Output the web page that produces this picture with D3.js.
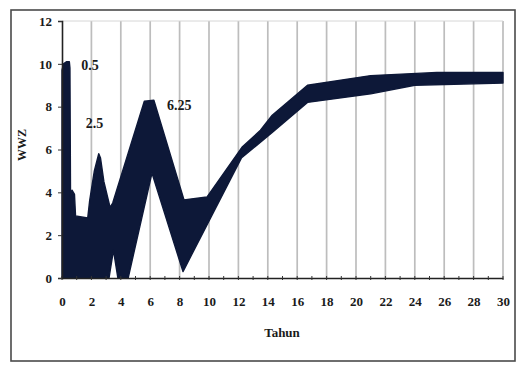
<!DOCTYPE html>
<html>
<head>
<meta charset="utf-8">
<script src="https://cdn.jsdelivr.net/npm/d3@7/dist/d3.min.js"></script>
<style>
  html, body { margin: 0; padding: 0; background: #ffffff; }
  svg { display: block; }
  svg text { font-family: "Liberation Serif", "Times New Roman", "DejaVu Serif", serif; fill: #1a1a1a; }
</style>
</head>
<body>
<svg id="chart" width="522" height="366"></svg>
<script>
// WWZ spectrum envelope: upper and lower edge of the band of curves (period in years, WWZ)
const upperEdge = [
  [0, 9.7], [0.1, 10.0], [0.3, 10.1], [0.5, 10.1], [0.54, 9.8], [0.58, 3.8],
  [0.68, 4.1], [0.85, 3.9], [0.92, 2.9], [1.75, 2.8], [1.88, 3.6], [2.2, 5.0],
  [2.5, 5.8], [2.62, 5.6], [2.85, 4.5], [3.27, 3.3], [3.45, 3.5], [5.6, 8.25],
  [6.25, 8.3], [8.3, 3.65], [9.86, 3.78], [12.24, 6.1], [13.5, 6.9], [14.3, 7.6],
  [16.7, 9.0], [21, 9.45], [25.5, 9.6], [30, 9.6]
];
const lowerEdge = [
  [0, 0], [3.2, 0], [3.5, 1.3], [3.8, 0], [4.5, 0], [6.12, 4.9], [8.23, 0.3],
  [12.2, 5.6], [14.3, 6.8], [16.7, 8.2], [21, 8.6], [24, 9.0], [30, 9.1]
];

// Periods of the marked peaks
const peakPeriods = [0.5, 2.5, 6.25];
const peakLabels = ["0.5", "2.5", "6.25"];
const peakValues = [10.1, 5.8, 8.3];

const xTicks = d3.range(0, 31, 2);
const yTicks = d3.range(0, 13, 2);
const xTitle = "Tahun";
const yTitle = "WWZ";

const serif = "'Liberation Serif', 'Times New Roman', serif";
const svg = d3.select("#chart");
const margin = { left: 62, right: 19, top: 21, bottom: 88 };
const W = 522, H = 366;

const x = d3.scaleLinear().domain([0, 30]).range([margin.left, W - margin.right]);
const y = d3.scaleLinear().domain([0, 12]).range([H - margin.bottom, margin.top]);

// outer frame
svg.append("rect")
  .attr("x", 11).attr("y", 10).attr("width", 504).attr("height", 351)
  .attr("fill", "none").attr("stroke", "#4a4a4a").attr("stroke-width", 1.6);

// vertical grid lines
svg.append("g")
  .selectAll("line")
  .data(xTicks.filter(d => d > 0))
  .join("line")
  .attr("x1", d => x(d)).attr("x2", d => x(d))
  .attr("y1", y(12)).attr("y2", y(0))
  .attr("stroke", "#bdbdbd").attr("stroke-width", 1.7);

// faint top line of the plot area
svg.append("line")
  .attr("x1", x(0)).attr("x2", x(30))
  .attr("y1", y(12)).attr("y2", y(12))
  .attr("stroke", "#d6d6d6").attr("stroke-width", 1);

// band of WWZ curves
const edge = d3.line().x(d => x(d[0])).y(d => y(d[1]));
const outline = upperEdge.concat(lowerEdge.slice().reverse());
svg.append("path")
  .attr("d", edge(outline) + "Z")
  .attr("fill", "#0d1838")
  .attr("stroke", "#0d1838")
  .attr("stroke-width", 1.4)
  .attr("stroke-linejoin", "round");

// x axis
const xAxis = d3.axisBottom(x).tickValues(xTicks).tickSize(0).tickPadding(19)
  .tickFormat(d3.format("d"));
const gx = svg.append("g").attr("transform", `translate(0,${y(0)})`).call(xAxis)
  .attr("font-family", serif);
gx.select(".domain").attr("stroke", "#222").attr("stroke-width", 1.4);
gx.selectAll("text")
  .attr("font-family", serif)
  .style("font-size", "13px").style("font-weight", "bold").attr("fill", "#1a1a1a");

// small ticks along the x axis
svg.append("g")
  .selectAll("line")
  .data(d3.range(0, 31, 1))
  .join("line")
  .attr("x1", d => x(d)).attr("x2", d => x(d))
  .attr("y1", y(0) - 2).attr("y2", y(0) + 2)
  .attr("stroke", "#333").attr("stroke-width", 1);

// y axis
const yAxis = d3.axisLeft(y).tickValues(yTicks).tickSize(4).tickPadding(6)
  .tickFormat(d3.format("d"));
const gy = svg.append("g").attr("transform", `translate(${x(0)},0)`).call(yAxis)
  .attr("font-family", serif);
gy.select(".domain").attr("stroke", "#222").attr("stroke-width", 1.6);
gy.selectAll(".tick line").attr("stroke", "#333");
gy.selectAll("text")
  .attr("font-family", serif)
  .style("font-size", "13px").style("font-weight", "bold").attr("fill", "#1a1a1a");

// peak period labels
const labelOffset = [[12, 8], [-13, -26], [13, 10]];
svg.append("g")
  .selectAll("text")
  .data(peakPeriods)
  .join("text")
  .attr("x", (d, i) => x(d) + labelOffset[i][0])
  .attr("y", (d, i) => y(peakValues[i]) + labelOffset[i][1])
  .attr("font-family", serif)
  .style("font-size", "14px").style("font-weight", "bold")
  .text((d, i) => peakLabels[i]);

// axis titles
svg.append("text")
  .attr("x", 282).attr("y", 337)
  .attr("text-anchor", "middle")
  .attr("font-family", serif)
  .style("font-size", "13px").style("font-weight", "bold")
  .text(xTitle);

svg.append("text")
  .attr("transform", "translate(26,145) rotate(-90)")
  .attr("text-anchor", "middle")
  .attr("font-family", serif)
  .style("font-size", "12px").style("font-weight", "bold")
  .text(yTitle);
</script>
</body>
</html>
